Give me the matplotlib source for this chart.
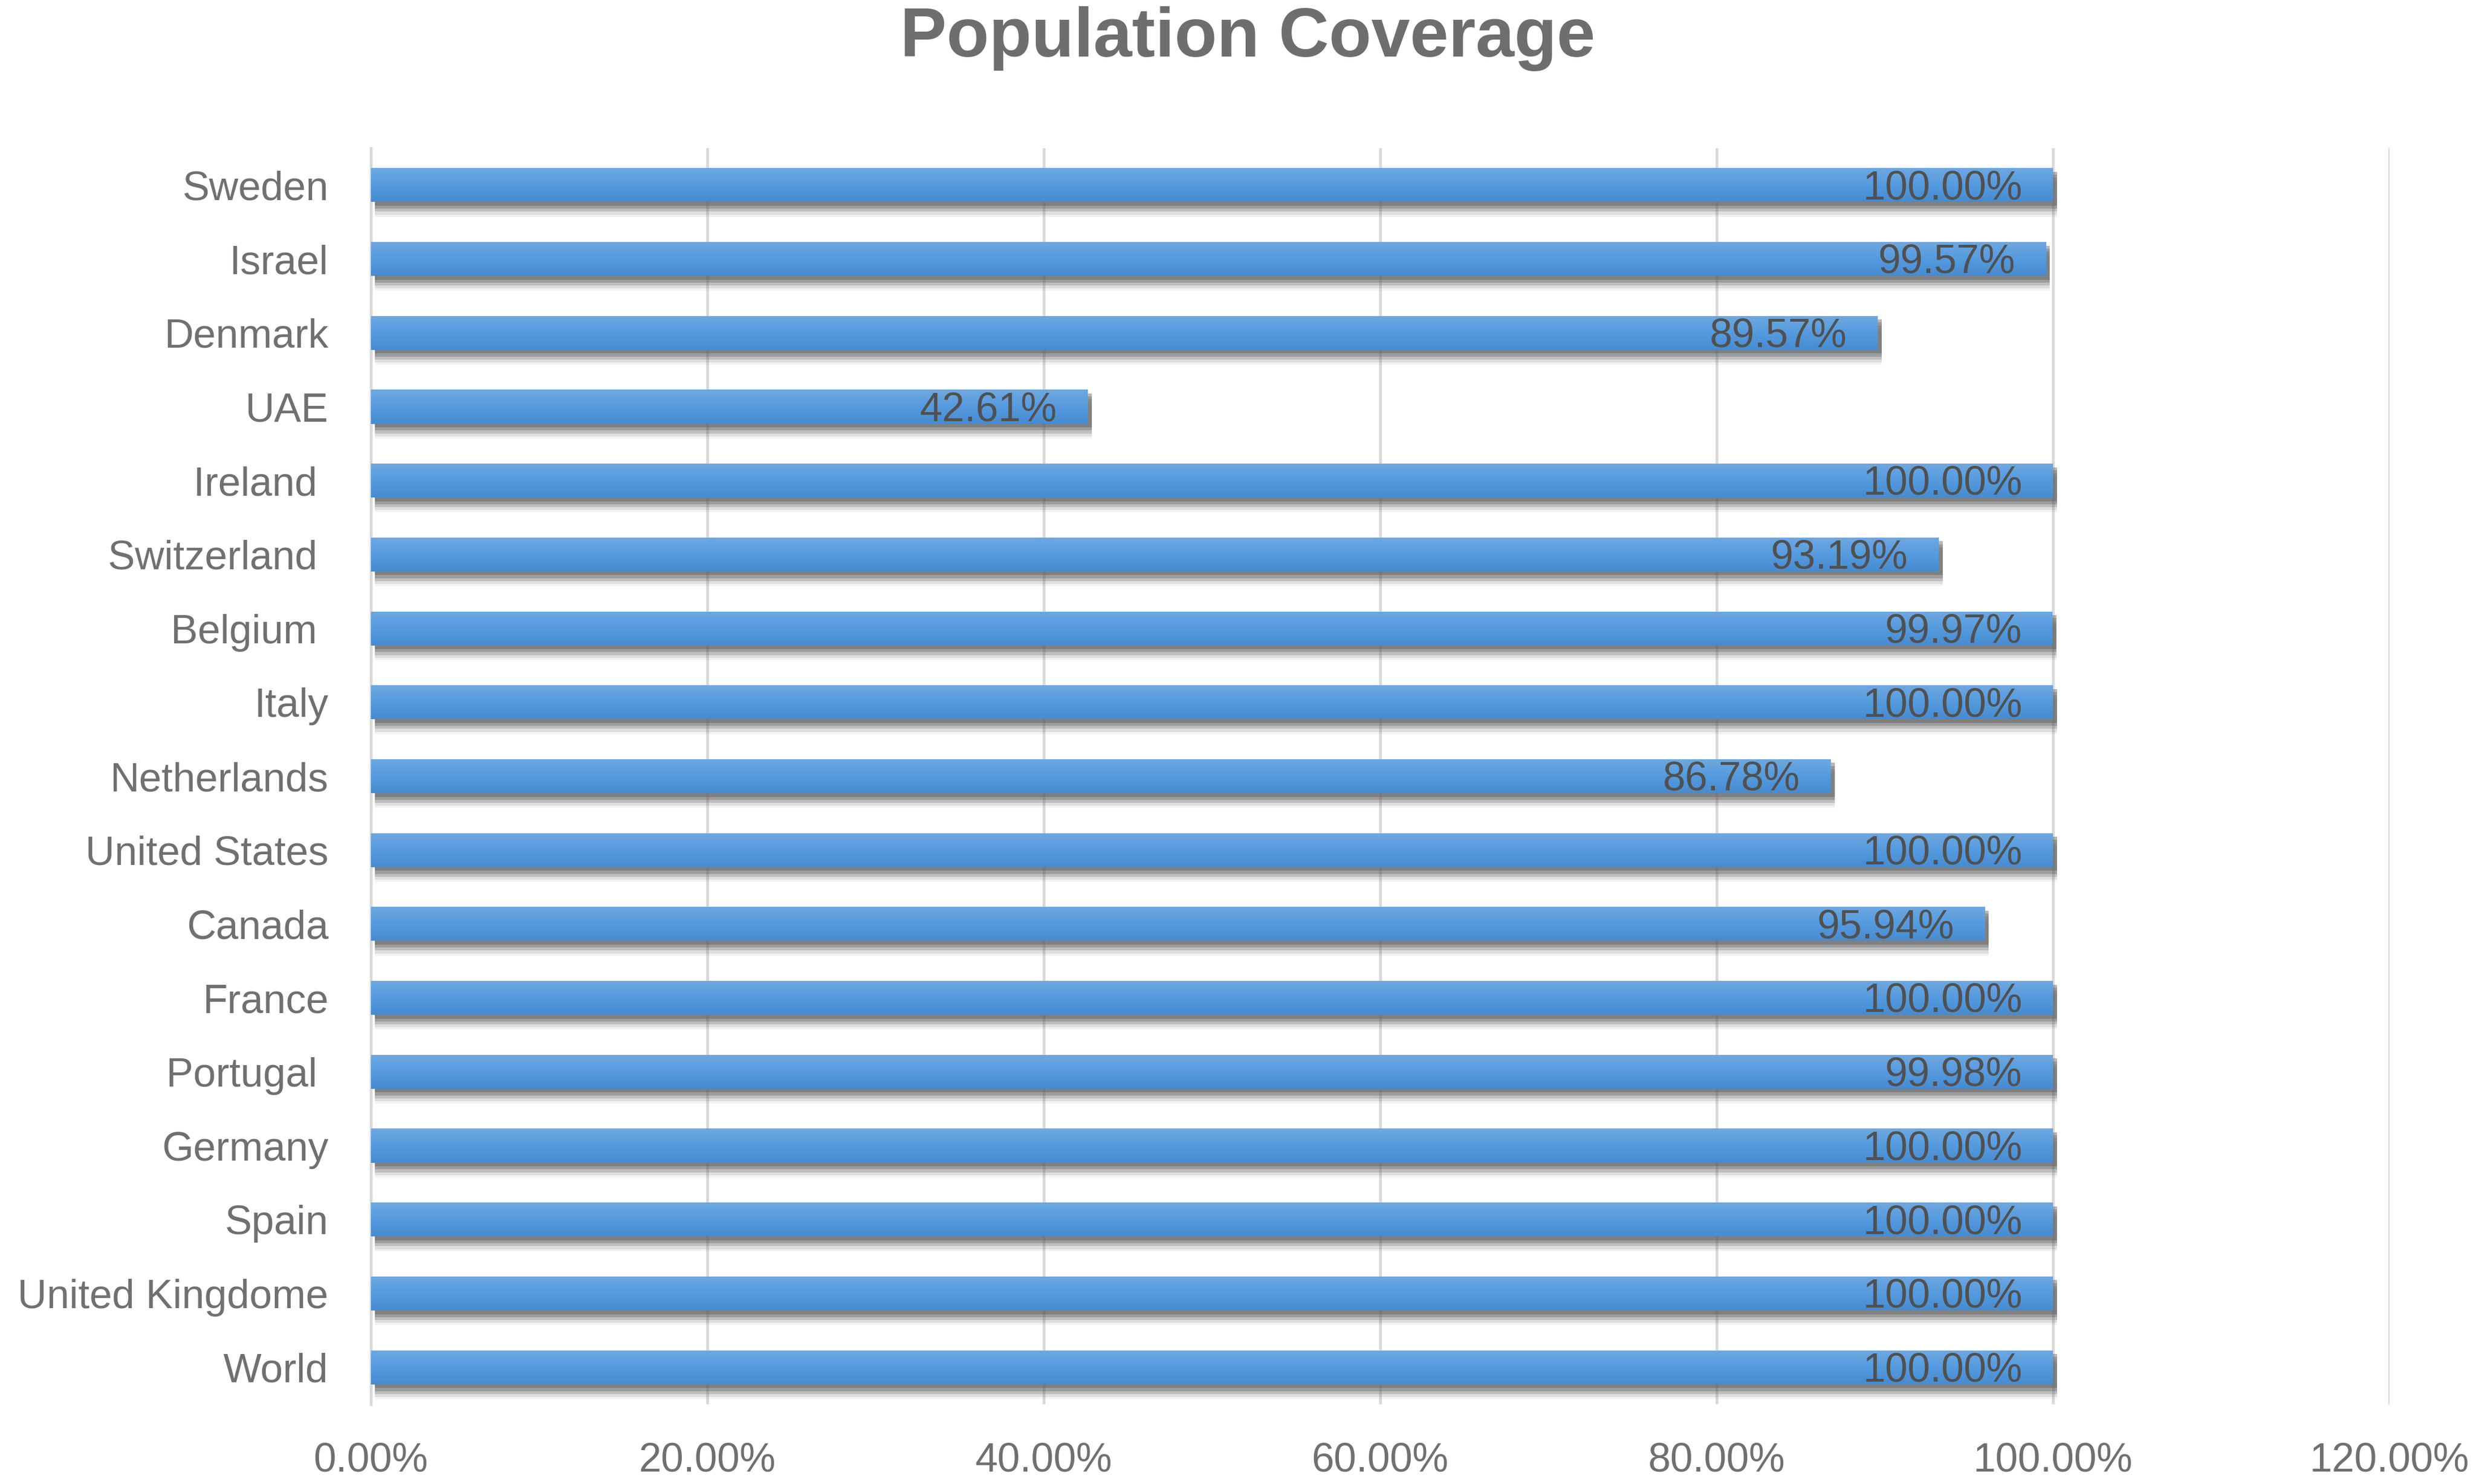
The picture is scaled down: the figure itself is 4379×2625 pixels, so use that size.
import matplotlib
matplotlib.use("Agg")
import matplotlib.pyplot as plt
import numpy as np
from matplotlib import font_manager

available = {f.name for f in font_manager.fontManager.ttflist}
family = "Liberation Sans Narrow" if "Liberation Sans Narrow" in available else "Liberation Sans"
plt.rcParams["font.family"] = [family, "DejaVu Sans"]

countries = ["World", "United Kingdome", "Spain", "Germany", "Portugal ", "France",
             "Canada", "United States", "Netherlands", "Italy", "Belgium ",
             "Switzerland ", "Ireland ", "UAE", "Denmark", "Israel", "Sweden"]
coverage = [100.00, 100.00, 100.00, 100.00, 99.98, 100.00, 95.94, 100.00, 86.78,
            100.00, 99.97, 93.19, 100.00, 42.61, 89.57, 99.57, 100.00]
xticks = [0, 20, 40, 60, 80, 100, 120]

fig = plt.figure(figsize=(4379 / 300, 2625 / 300), dpi=300)
ax = fig.add_axes([0.1498, 0.0537, 0.8152, 0.8465])

bar_h = 0.46
ypos = np.arange(len(countries))

# soft shadow under each bar
for k, a in zip([0.05, 0.09, 0.13, 0.17, 0.2], [0.45, 0.35, 0.25, 0.14, 0.07]):
    ax.barh(ypos - k, coverage, height=bar_h, left=0.25, color="#606060",
            alpha=a, zorder=2, linewidth=0)

# gradient-filled bars
grad = np.linspace(0, 1, 64).reshape(-1, 1)
cmap = matplotlib.colors.LinearSegmentedColormap.from_list(
    "bar", ["#478BD0", "#559BDF", "#6FA8E0"])
bars = ax.barh(ypos, coverage, height=bar_h, color="#559BDF", zorder=3, linewidth=0)
for b in bars:
    x0, y0 = b.get_x(), b.get_y()
    im = ax.imshow(grad, cmap=cmap, aspect="auto", origin="lower",
                   extent=[x0, x0 + b.get_width(), y0, y0 + b.get_height()], zorder=4)
    im.set_clip_path(b)

for y, v in zip(ypos, coverage):
    ax.annotate(f"{v:.2f}%", xy=(v, y), xytext=(-13, -1.5), textcoords="offset points",
                ha="right", va="center", fontsize=17.2, color="#505050", zorder=5)

ax.set_xlim(0, 120)
ax.set_ylim(-0.5, len(countries) - 0.5)
ax.set_xticks(xticks)
ax.set_xticklabels([f"{t:.2f}%" for t in xticks])
ax.set_yticks(ypos)
ax.set_yticklabels(countries)
ax.tick_params(axis="both", length=0, labelsize=17.2, labelcolor="#707070")
ax.tick_params(axis="x", pad=16)
ax.tick_params(axis="y", pad=18)
ax.grid(axis="x", color="#D9D9D9", linewidth=1.2, zorder=0)
ax.set_axisbelow(True)
for side in ["top", "right", "bottom"]:
    ax.spines[side].set_visible(False)
ax.spines["left"].set_color("#D9D9D9")
ax.spines["left"].set_linewidth(1.2)

fig.text(0.504, 0.974, "Population Coverage", ha="center", va="center",
         fontsize=29.5, fontweight="bold", color="#6E6E6E")

fig.savefig("out.png", dpi=300)
